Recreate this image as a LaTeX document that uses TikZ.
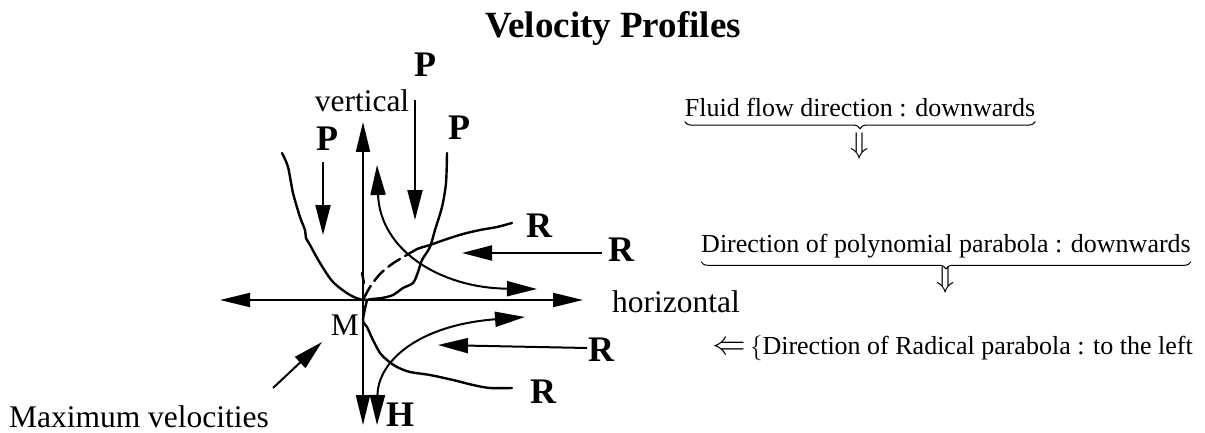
\documentclass[tikz,border=0pt]{standalone}
\usepackage{fontspec}
\setmainfont{Liberation Serif}
\usetikzlibrary{arrows.meta,decorations.pathreplacing}
\tikzset{
  axis/.style={{Triangle[length=30pt,width=14pt]}-{Triangle[length=30pt,width=14pt]}, line width=2pt},
  ar/.style={-{Triangle[length=30pt,width=15pt]}, line width=2pt},
  arb/.style={{Triangle[length=30pt,width=15pt]}-{Triangle[length=30pt,width=15pt]}, line width=2pt},
  prof/.style={line width=2.4pt, line join=round, line cap=round},
  big/.style={font=\fontsize{36}{40}\selectfont\bfseries, inner sep=0pt},
  lbl/.style={font=\fontsize{31.5}{36}\selectfont, inner sep=0pt},
  note/.style={font=\fontsize{26}{30}\selectfont, inner sep=0pt},
  brc/.style={decorate, decoration={brace, mirror, amplitude=7pt}, line width=1pt}
}

\begin{document}
\begin{tikzpicture}[x=1pt, y=-1pt]
\useasboundingbox (0,0) rectangle (1205,433);
\node[font=\fontsize{37}{40}\selectfont\bfseries, inner sep=0pt, anchor=base] (title) at (613,38) {Velocity Profiles};

% axes
\coordinate (O) at (363,300);
\coordinate (hl) at (220,300);
\coordinate (hr) at (583,300);
\coordinate (vt) at (363,122);
\coordinate (vb) at (363,425);
\draw[axis] (hl) -- (hr);
\draw[axis] (vt) -- (vb);
\node[lbl, anchor=base] (vert) at (362,112) {vertical};
\node[lbl, anchor=base west] (horiz) at (612,312) {horizontal};
\node[lbl] (m) at (345,325) {M};

% polynomial parabola
\draw[prof] plot[smooth, tension=0.5] coordinates {(282,153) (288,167) (293,193) (300,217) (305,230) (306,238) (310,245) (320,263) (333,282) (350,295) (363,300) (372,299) (382,298) (393,295) (403,288) (413,283) (418,272) (422,260) (430,247) (435,230) (442,207) (446,183) (447,153)};

% radical parabola
\draw[prof, dash pattern=on 14pt off 6pt] plot[smooth, tension=0.5] coordinates {(364,298) (370,287) (380,274) (392,264) (405,256) (417,249)};
\draw[prof] plot[smooth, tension=0.5] coordinates {(417,249) (423,247) (430,245) (447,239) (463,234) (480,230) (497,227) (512,223)};
\draw[prof] plot[smooth, tension=0.5] coordinates {(367,300) (363,320) (367,327) (373,340) (380,353) (387,360) (397,367) (410,372) (430,375) (453,380) (473,385) (490,388) (512,388)};
\draw[prof] (362,273) -- (364,283);

% curved arrows
\coordinate (ua) at (377,165);
\coordinate (ub) at (537,289);
\coordinate (la) at (377,425);
\coordinate (lb) at (525,317);
\draw[arb] (ua) .. controls (380,250) and (440,288) .. (ub);
\draw[arb] (la) .. controls (378,360) and (420,325) .. (lb);

% straight arrows
\coordinate (p1s) at (323,162);
\coordinate (p1e) at (323,235);
\coordinate (p2s) at (415,100);
\coordinate (p2e) at (415,220);
\coordinate (r1s) at (602,253);
\coordinate (r1e) at (462,253);
\coordinate (r2s) at (587,348);
\coordinate (r2e) at (438,345);
\coordinate (mxs) at (273,388);
\coordinate (mxe) at (322,342);
\draw[ar] (p1s) -- (p1e);
\draw[ar] (p2s) -- (p2e);
\draw[ar] (r1s) -- (r1e);
\draw[ar] (r2s) -- (r2e);
\draw[ar] (mxs) -- (mxe);

% labels
\node[big] (ptop) at (425,65) {P};
\node[big] (pright) at (459,128) {P};
\node[big] (pleft) at (327,139) {P};
\node[big] (rup) at (539,226) {R};
\node[big] (rright) at (621,250) {R};
\node[big] (rlow) at (601,350) {R};
\node[big] (rbot) at (543,392) {R};
\node[big] (h) at (400,415) {H};
\node[lbl, anchor=base] (maxv) at (139,427) {Maximum velocities};

% notes
\node[note, anchor=base] (fluid) at (860,117) {Fluid flow direction : downwards};
\draw[brc] (fluid.south west) ++(0,4) coordinate (f1) -- (fluid.south east |- f1);
\node[note] (fdown) at (860,146) {\scalebox{1.2}{$\Downarrow$}};
\node[note, anchor=base] (poly) at (946,252) {Direction of polynomial parabola : downwards};
\draw[brc] (poly.south west) ++(0,4) coordinate (q1) -- (poly.south east |- q1);
\node[note] (pdown) at (946,280) {\scalebox{1.2}{$\Downarrow$}};
\node[note, anchor=base east] (rad) at (1193,354) {\scalebox{1.35}{$\Leftarrow$}\,$\{$Direction of Radical parabola : to the left};
\end{tikzpicture}
\end{document}
